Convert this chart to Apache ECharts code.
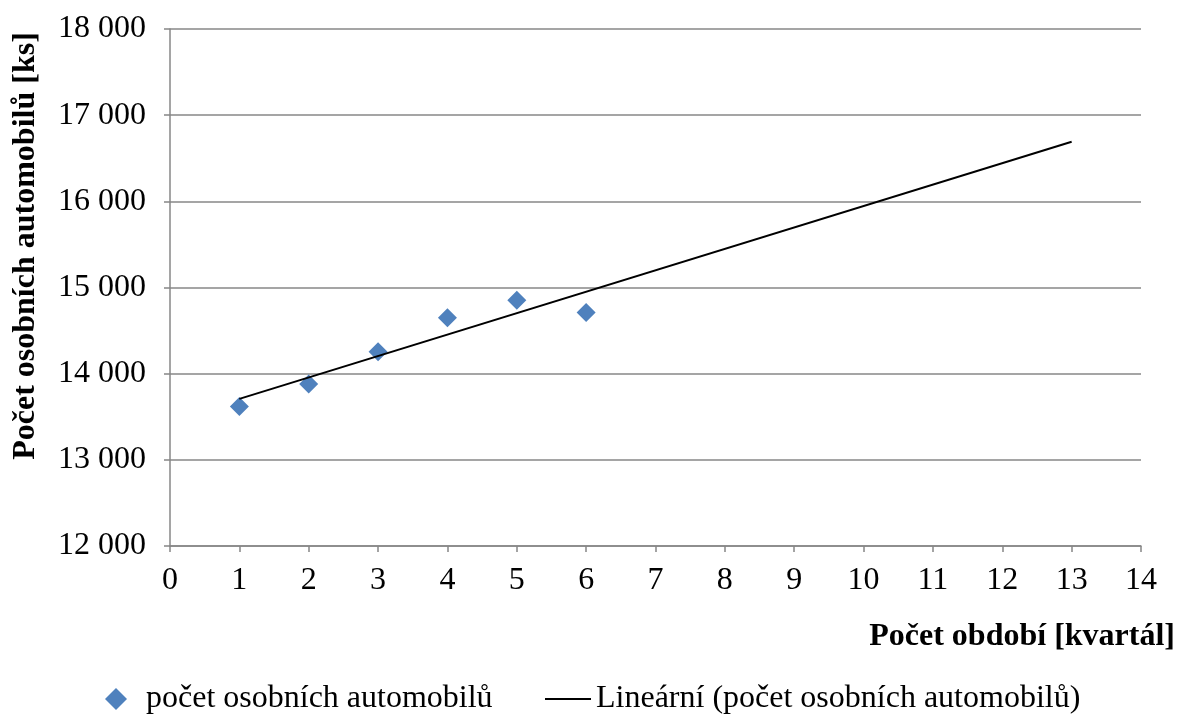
<!DOCTYPE html>
<html>
<head>
<meta charset="utf-8">
<script src="https://cdn.jsdelivr.net/npm/echarts@6/dist/echarts.min.js"></script>
<style>html,body{margin:0;padding:0;background:#fff}#c{width:1179px;height:717px}</style>
</head>
<body>
<div id="c"></div>
<script>
const periods = [1, 2, 3, 4, 5, 6];
const cars = [13618, 13881, 14255, 14648, 14853, 14711];
const trendX = [1, 13];
const trendY = [13707, 16691];
const seriesName = 'počet osobních automobilů';
const trendName = 'Lineární (počet osobních automobilů)';
const xTitle = 'Počet období [kvartál]';
const yTitle = 'Počet osobních automobilů [ks]';

const font = 'Liberation Serif';
const fs = 32;
const grey = '#878787';
const chart = echarts.init(document.getElementById('c'), null, {renderer: 'canvas'});
chart.setOption({
  animation: false,
  backgroundColor: '#fff',
  grid: {left: 170, right: 38, top: 29, bottom: 171, containLabel: false},
  xAxis: {
    type: 'value', min: 0, max: 14, interval: 1,
    axisLine: {show: true, onZero: false, lineStyle: {color: grey, width: 1.5}},
    axisTick: {show: true, inside: false, length: 6, lineStyle: {color: grey, width: 1.5}},
    splitLine: {show: false},
    axisLabel: {color: '#000', fontFamily: font, fontSize: fs, margin: 19}
  },
  yAxis: {
    type: 'value', min: 12000, max: 18000, interval: 1000,
    axisLine: {show: true, lineStyle: {color: grey, width: 1.5}},
    axisTick: {show: true, length: 6, lineStyle: {color: grey, width: 1.5}},
    splitLine: {show: true, lineStyle: {color: grey, width: 1.5}},
    axisLabel: {color: '#000', fontFamily: font, fontSize: fs, margin: 24,
      formatter: v => String(v).replace(/\B(?=(\d{3})+(?!\d))/g, ' ')}
  },
  legend: [{
    left: 105, top: 683, padding: 0, itemWidth: 22, itemHeight: 22, itemGap: 10,
    data: [{name: seriesName, icon: 'diamond'}],
    textStyle: {fontFamily: font, fontSize: fs, color: '#000', padding: [0, 0, 0, 14]}
  }, {
    left: 545, top: 683, padding: 0, itemWidth: 46, itemHeight: 2, itemGap: 10,
    data: [{name: trendName, icon: 'rect'}],
    itemStyle: {color: '#000'},
    textStyle: {fontFamily: font, fontSize: fs, color: '#000'}
  }],
  graphic: [{
    type: 'text', right: 4, top: 621,
    style: {text: xTitle, font: 'bold ' + fs + 'px "' + font + '"', fill: '#000'}
  }, {
    type: 'text', x: 26, y: 246, rotation: Math.PI / 2,
    style: {text: yTitle, font: 'bold ' + fs + 'px "' + font + '"', fill: '#000', align: 'center', verticalAlign: 'middle'}
  }],
  series: [{
    name: seriesName, type: 'scatter', symbol: 'diamond', symbolSize: 19,
    itemStyle: {color: '#4F81BD', opacity: 1},
    data: periods.map((p, i) => [p, cars[i]])
  }, {
    name: trendName, type: 'line', showSymbol: false, symbol: 'none',
    lineStyle: {color: '#000', width: 2},
    itemStyle: {color: '#000'},
    data: trendX.map((x, i) => [x, trendY[i]])
  }]
});
</script>
</body>
</html>
